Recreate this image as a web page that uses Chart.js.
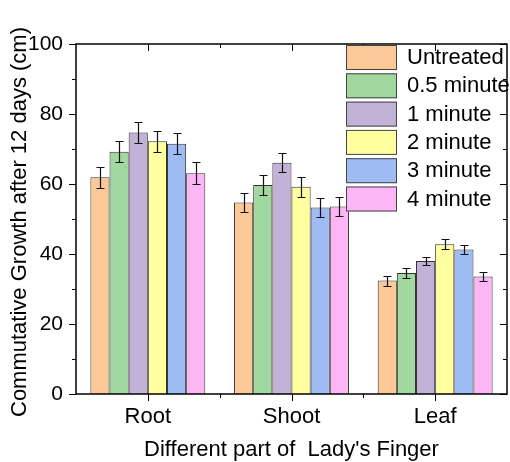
<!DOCTYPE html>
<html>
<head>
<meta charset="utf-8">
<script src="https://cdn.jsdelivr.net/npm/chart.js@4/dist/chart.umd.min.js"></script>
<style>
  body { margin: 0; background: #fff; }
  #wrap { width: 510px; height: 462px; }
</style>
</head>
<body>
<div id="wrap"><canvas id="growthChart" width="510" height="462"></canvas></div>
<script>
// categories and series
const categories = ['Root', 'Shoot', 'Leaf'];
const seriesNames = ['Untreated', '0.5 minute', '1 minute', '2 minute', '3 minute', '4 minute'];
const untreated = [61.9, 54.7, 32.4];
const min05 = [69.2, 59.7, 34.6];
const min1 = [74.7, 66.1, 38.0];
const min2 = [72.2, 59.2, 42.8];
const min3 = [71.5, 53.3, 41.3];
const min4 = [63.1, 53.6, 33.6];
// error bars (+/-)
const errUntreated = [3.0, 2.7, 1.4];
const errMin05 = [3.0, 2.9, 1.4];
const errMin1 = [3.0, 2.7, 1.2];
const errMin2 = [3.0, 2.8, 1.4];
const errMin3 = [3.0, 2.7, 1.2];
const errMin4 = [3.1, 2.8, 1.4];
const yTicks = [0, 20, 40, 60, 80, 100];

const seriesValues = [untreated, min05, min1, min2, min3, min4];
const seriesErrors = [errUntreated, errMin05, errMin1, errMin2, errMin3, errMin4];
const colors = ['#fcc898', '#a0d8a0', '#c3b2d7', '#ffffa0', '#9ebbf2', '#fdb6f5'];

const FONT = '"Liberation Sans", Arial, sans-serif';

// error bars, frame with ticks, y title and legend
const extras = {
    id: 'extras',
    afterDatasetsDraw(chart) {
        const ctx = chart.ctx;
        const y = chart.scales.y;
        const x = chart.scales.x;
        const area = chart.chartArea;
        ctx.save();

        // error bars
        ctx.strokeStyle = '#111';
        ctx.lineWidth = 1.2;
        seriesErrors.forEach((errs, di) => {
            const meta = chart.getDatasetMeta(di);
            meta.data.forEach((bar, i) => {
                const v = seriesValues[di][i];
                const top = Math.round(y.getPixelForValue(v + errs[i])) + 0.5;
                const bot = Math.round(y.getPixelForValue(v - errs[i])) + 0.5;
                const cx = Math.round(bar.x) + 0.5;
                ctx.beginPath();
                ctx.moveTo(cx, top); ctx.lineTo(cx, bot);
                ctx.moveTo(cx - 4, top); ctx.lineTo(cx + 4, top);
                ctx.moveTo(cx - 4, bot); ctx.lineTo(cx + 4, bot);
                ctx.stroke();
            });
        });

        // frame
        ctx.strokeStyle = '#000';
        ctx.lineWidth = 1.5;
        ctx.strokeRect(area.left, area.top, area.right - area.left, area.bottom - area.top);

        // y ticks (outward left, inward right)
        ctx.lineWidth = 1;
        for (let v = 0; v <= 100; v += 10) {
            const py = Math.round(y.getPixelForValue(v)) + 0.5;
            const len = v % 20 === 0 ? 7 : 4;
            ctx.beginPath();
            ctx.moveTo(area.left - len, py); ctx.lineTo(area.left, py);
            ctx.moveTo(area.right, py); ctx.lineTo(area.right - len, py);
            ctx.stroke();
        }
        // x ticks at categories and between them
        const step = (area.right - area.left) / categories.length;
        categories.forEach((c, i) => {
            const px = Math.round(x.getPixelForValue(i)) + 0.5;
            ctx.beginPath();
            ctx.moveTo(px, area.bottom); ctx.lineTo(px, area.bottom + 7);
            ctx.moveTo(px, area.top); ctx.lineTo(px, area.top + 7);
            ctx.stroke();
            if (i > 0) {
                const bx = Math.round(x.getPixelForValue(i) - step / 2) + 0.5;
                ctx.beginPath();
                ctx.moveTo(bx, area.bottom); ctx.lineTo(bx, area.bottom + 4);
                ctx.moveTo(bx, area.top); ctx.lineTo(bx, area.top + 4);
                ctx.stroke();
            }
        });

        // y axis title
        ctx.save();
        ctx.translate(20, 222);
        ctx.rotate(-Math.PI / 2);
        ctx.font = '22px ' + FONT;
        ctx.fillStyle = '#000';
        ctx.textAlign = 'center';
        ctx.textBaseline = 'middle';
        ctx.fillText('Commutative Growth after 12 days (cm)', 0, 0);
        ctx.restore();

        // legend
        ctx.font = '22px ' + FONT;
        ctx.textAlign = 'left';
        ctx.textBaseline = 'middle';
        seriesNames.forEach((name, i) => {
            const ty = 45 + i * 28.3;
            ctx.fillStyle = colors[i];
            ctx.fillRect(346, ty, 51, 25);
            ctx.strokeStyle = '#444';
            ctx.lineWidth = 1;
            ctx.strokeRect(346.5, ty + 0.5, 50, 24);
            ctx.fillStyle = '#000';
            ctx.fillText(name, 407, ty + 13);
        });
        ctx.restore();
    }
};

const ctx = document.getElementById('growthChart').getContext('2d');
const growthChart = new Chart(ctx, {
    type: 'bar',
    data: {
        labels: categories,
        datasets: seriesNames.map((name, i) => ({
            label: name,
            data: seriesValues[i],
            backgroundColor: colors[i],
            borderColor: '#333',
            borderWidth: 1,
            barPercentage: 1.0,
            categoryPercentage: 0.8
        }))
    },
    options: {
        responsive: false,
        animation: false,
        devicePixelRatio: 1,
        layout: { padding: { top: 44, right: 3, left: 0, bottom: 0 } },
        plugins: {
            legend: { display: false },
            tooltip: { enabled: false }
        },
        scales: {
            x: {
                grid: { display: false, drawTicks: false },
                border: { display: false },
                ticks: { color: '#000', font: { family: FONT, size: 22 }, padding: 10 },
                title: {
                    display: true,
                    text: "Different part of  Lady's Finger",
                    color: '#000',
                    font: { family: FONT, size: 22, lineHeight: 1 },
                    padding: { top: 0, bottom: 1 }
                },
                afterFit: function(scale) { scale.height = 68; }
            },
            y: {
                min: 0,
                max: 100,
                grid: { display: false, drawTicks: false },
                border: { display: false },
                ticks: {
                    stepSize: 20,
                    color: '#000',
                    font: { family: FONT, size: 21 },
                    padding: 13,
                    callback: function(v) { return yTicks.includes(v) ? v : ''; }
                },
                afterFit: function(scale) { scale.width = 76; }
            }
        }
    },
    plugins: [extras]
});
</script>
</body>
</html>
